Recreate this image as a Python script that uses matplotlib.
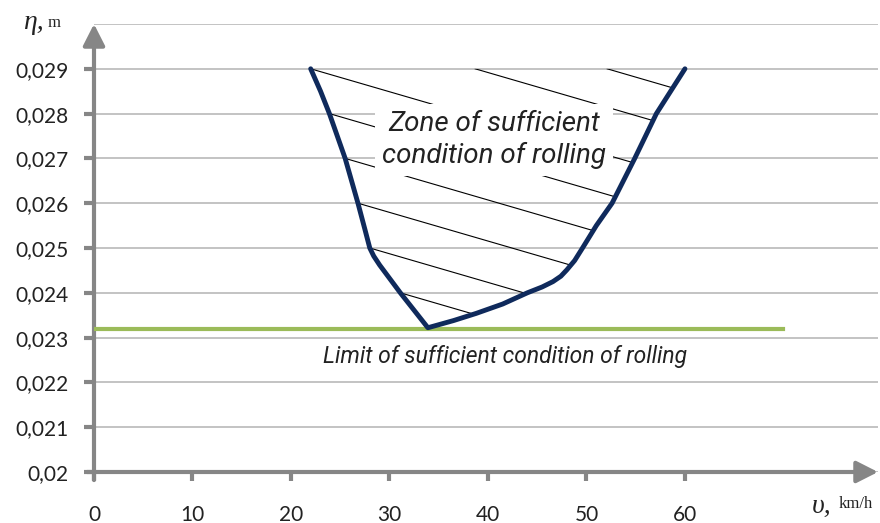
import numpy as np
import matplotlib.pyplot as plt
from matplotlib.patches import Polygon

# boundary curve of the zone (speed, km/h -> eta, m)
V = [22.0, 23.0, 23.9, 25.5, 26.8, 27.5, 28.0, 28.4, 29.0, 31.1, 33.9,
     36.5, 38.8, 41.5, 44.0, 45.5, 46.6, 47.4, 48.0, 48.8, 49.6, 51.0,
     52.6, 54.9, 57.1, 60.0]
ETA = [0.0290, 0.0285, 0.0280, 0.0270, 0.0260, 0.02542, 0.0250, 0.02482, 0.02462,
       0.0240, 0.02322,
       0.02338, 0.02354, 0.02375, 0.0240, 0.02413, 0.02425, 0.02437, 0.02451,
       0.02472, 0.0250, 0.0255, 0.0260, 0.0270, 0.0280, 0.0290]

# limit line
LIMIT_V = [0, 70]
LIMIT_ETA = 0.0232

# hatch lines: start points on the zone border, common slope (m per km/h)
HATCH_V = [22.0, 23.9, 25.5, 26.8, 28.0, 31.1, 38.7, 52.1]
HATCH_ETA = [0.029, 0.028, 0.027, 0.026, 0.025, 0.024, 0.029, 0.029]
HATCH_SLOPE = -6.4e-5

X_TICKS = [0, 10, 20, 30, 40, 50, 60]
Y_TICKS = [0.020, 0.021, 0.022, 0.023, 0.024, 0.025, 0.026, 0.027, 0.028, 0.029]
Y_LABELS = ["0,02", "0,021", "0,022", "0,023", "0,024", "0,025",
            "0,026", "0,027", "0,028", "0,029"]

AXIS_C = "#868686"
GRID_C = "#b3b3b3"
CURVE_C = "#0f2a5c"
LIMIT_C = "#9bbb59"
TEXT_C = "#222222"
THIN = ["Roboto", "DejaVu Sans"]
SERIF = ["Liberation Serif", "DejaVu Serif"]

plt.rcParams["font.family"] = ["Lato", "DejaVu Sans"]

fig = plt.figure(figsize=(8.8, 5.23), dpi=100)
ax = fig.add_axes([94 / 880, 51 / 523, 784 / 880, 448 / 523])
ax.set_xlim(0, 79.6)
ax.set_ylim(0.020, 0.030)
for s in ax.spines.values():
    s.set_visible(False)

ax.set_xticks(X_TICKS)
ax.set_xticklabels([str(t) for t in X_TICKS])
ax.set_yticks(Y_TICKS)
ax.set_yticklabels(Y_LABELS)
ax.tick_params(colors=AXIS_C, width=3, labelcolor=TEXT_C, labelsize=15)
ax.tick_params(axis="y", length=7, pad=11)
ax.tick_params(axis="x", length=6.5, pad=17)

# gridlines
ax.grid(axis="y", color=GRID_C, lw=1.1, zorder=0)
ax.axhline(0.030, color=GRID_C, lw=1.1, zorder=0)

# axes with arrows
arrow = dict(arrowstyle="-|>,head_length=0.65,head_width=0.33", mutation_scale=20,
             color=AXIS_C, lw=3, shrinkA=0, shrinkB=0)
ax.annotate("", xy=(0, 1.0), xytext=(0, -0.018), xycoords="axes fraction",
            textcoords="axes fraction", arrowprops=arrow, annotation_clip=False)
ax.annotate("", xy=(1.0, 0), xytext=(-0.009, 0), xycoords="axes fraction",
            textcoords="axes fraction", arrowprops=arrow, annotation_clip=False)

# hatching clipped to the zone
zone = Polygon(np.column_stack([V, ETA]), closed=True, facecolor="none",
               edgecolor="none")
ax.add_patch(zone)
for v0, e0 in zip(HATCH_V, HATCH_ETA):
    xs = np.array([v0, v0 + 45])
    ln, = ax.plot(xs, e0 + HATCH_SLOPE * (xs - v0), color="black", lw=0.8, zorder=2)
    ln.set_clip_path(zone)

ax.text(40.6, 0.02741, "Zone of sufficient\ncondition of rolling", ha="center",
        va="center", fontsize=20, style="italic", family=THIN,
        color=TEXT_C, linespacing=1.2, zorder=3,
        bbox=dict(facecolor="white", edgecolor="none", pad=5))

ax.plot(LIMIT_V, [LIMIT_ETA] * 2, color=LIMIT_C, lw=3, zorder=4)
ax.plot(V, ETA, color=CURVE_C, lw=3.5, solid_joinstyle="round",
        solid_capstyle="round", zorder=5)

ax.text(41.7, 0.02257, "Limit of sufficient condition of rolling", ha="center",
        va="center", fontsize=16.5, style="italic", family=THIN,
        color=TEXT_C)

# axis names
fig.text(23 / 880, 1 - 29 / 523, "η,", fontsize=20, style="italic", family=SERIF,
         color=TEXT_C, va="baseline")
fig.text(48 / 880, 1 - 27 / 523, "m", fontsize=12, family=SERIF, color=TEXT_C,
         va="baseline")
fig.text(812 / 880, 1 - 513 / 523, "υ,", fontsize=20, style="italic", family=SERIF,
         color=TEXT_C, va="baseline")
fig.text(839 / 880, 1 - 508 / 523, "km/h", fontsize=12, family=SERIF, color=TEXT_C,
         va="baseline")

fig.savefig("out.png", dpi=100)
